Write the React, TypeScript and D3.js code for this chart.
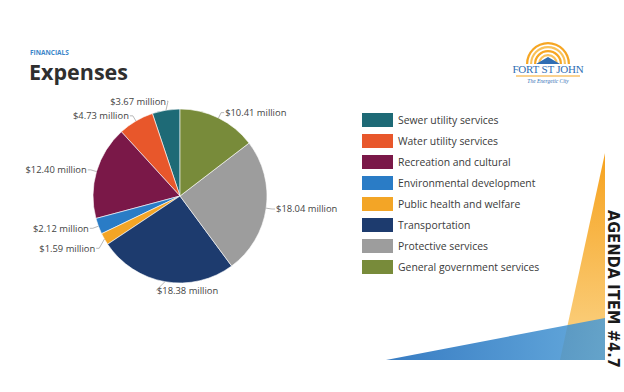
import React, { useEffect, useRef } from 'react';
import * as d3 from 'd3';

// legend order (top to bottom)
const categories = [
  'Sewer utility services',
  'Water utility services',
  'Recreation and cultural',
  'Environmental development',
  'Public health and welfare',
  'Transportation',
  'Protective services',
  'General government services',
];
const values = [3.67, 4.73, 12.4, 2.12, 1.59, 18.38, 18.04, 10.41];
const colors = ['#1e6a76', '#e8572b', '#7a1848', '#2a7cc6', '#f3a526', '#1d3b6e', '#9d9d9d', '#788b3a'];

const W = 624;
const H = 392;

const App: React.FC = () => {
  const svgRef = useRef<SVGSVGElement | null>(null);

  useEffect(() => {
    if (!svgRef.current) return;
    const svg = d3.select(svgRef.current);
    svg.selectAll('*').remove();

    const font = "'Open Sans', 'Noto Sans', sans-serif";
    const data = categories.map((c, i) => ({ name: c, value: values[i], color: colors[i] }));

    // gradients for the corner decoration
    const defs = svg.append('defs');
    const og = defs.append('linearGradient').attr('id', 'og').attr('x1', 0).attr('y1', 0).attr('x2', 0).attr('y2', 1);
    og.append('stop').attr('offset', '0%').attr('stop-color', '#f6a21e');
    og.append('stop').attr('offset', '100%').attr('stop-color', '#fbd488');
    const bg = defs.append('linearGradient').attr('id', 'bg').attr('x1', 0).attr('y1', 0).attr('x2', 1).attr('y2', 0);
    bg.append('stop').attr('offset', '0%').attr('stop-color', '#1565b8');
    bg.append('stop').attr('offset', '100%').attr('stop-color', '#4a9bd6');

    svg.append('rect').attr('width', W).attr('height', H).attr('fill', '#ffffff');

    // decoration triangles
    svg.append('path')
      .attr('d', 'M605,153 L605,360 L560,360 Z')
      .attr('fill', 'url(#og)');
    svg.append('path')
      .attr('d', 'M386,360 L605,318 L605,360 Z')
      .attr('fill', 'url(#bg)')
      .attr('opacity', 0.85);

    // vertical agenda text
    svg.append('text')
      .attr('transform', 'translate(608,210) rotate(90)')
      .attr('font-family', "'DejaVu Sans Condensed', 'DejaVu Sans', sans-serif")
      .attr('font-weight', 'bold')
      .attr('font-size', 16)
      .attr('letter-spacing', 0.2)
      .attr('fill', '#1a1a1a')
      .text('AGENDA ITEM #4.7');

    // titles
    svg.append('text')
      .attr('x', 30).attr('y', 55)
      .attr('font-family', font).attr('font-weight', 'bold').attr('font-size', 6.5)
      .attr('fill', '#3b86c9')
      .text('FINANCIALS');
    svg.append('text')
      .attr('x', 29).attr('y', 80)
      .attr('font-family', font).attr('font-weight', 'bold').attr('font-size', 21.5)
      .attr('fill', '#2f2f2f')
      .text('Expenses');

    // logo
    const logo = svg.append('g').attr('transform', 'translate(548,64)');
    [22, 18, 14, 10].forEach((rr, i) => {
      logo.append('path')
        .attr('d', d3.arc()({ innerRadius: rr - 2.2, outerRadius: rr, startAngle: -Math.PI / 2, endAngle: Math.PI / 2 }) as string)
        .attr('fill', i % 2 === 0 ? '#f6a623' : '#f9c25a');
    });
    logo.append('path').attr('d', 'M-12,0 L0,-7 L12,0 Z').attr('fill', '#2f6db3');
    logo.append('text')
      .attr('x', 0).attr('y', 9).attr('text-anchor', 'middle')
      .attr('font-family', "'Liberation Serif', serif").attr('font-size', 11)
      .attr('fill', '#2f6db3').attr('letter-spacing', -0.2)
      .text('FORT ST JOHN');
    logo.append('line').attr('x1', -32).attr('x2', 32).attr('y1', 12).attr('y2', 12)
      .attr('stroke', '#f6a623').attr('stroke-width', 1.2);
    logo.append('text')
      .attr('x', 0).attr('y', 18.5).attr('text-anchor', 'middle')
      .attr('font-family', "'Liberation Serif', serif").attr('font-style', 'italic').attr('font-size', 5.5)
      .attr('fill', '#2f6db3')
      .text('The Energetic City');

    // pie
    const cx = 180;
    const cy = 196;
    const r = 87;
    const pie = d3.pie<typeof data[0]>()
      .value(d => d.value)
      .sort(null)
      .startAngle(0)
      .endAngle(-2 * Math.PI);
    const arcs = pie(data);
    const arc = d3.arc<d3.PieArcDatum<typeof data[0]>>().innerRadius(0).outerRadius(r);

    const g = svg.append('g').attr('transform', `translate(${cx},${cy})`);
    g.selectAll('path.slice')
      .data(arcs)
      .enter()
      .append('path')
      .attr('class', 'slice')
      .attr('d', arc)
      .attr('fill', d => d.data.color)
      .attr('stroke', '#ffffff')
      .attr('stroke-width', 0.6);

    // labels with leader lines
    const pt = (a: number, rr: number) => [Math.sin(a) * rr, -Math.cos(a) * rr];
    const labels = arcs.map(a => {
      const mid = (a.startAngle + a.endAngle) / 2;
      const [ex, ey] = pt(mid, r);
      const [lx, ly] = pt(mid, r + 6);
      const c = Math.cos(mid);
      const pos = c > 0.95 ? 'top' : c < -0.95 ? 'bottom' : Math.sin(mid) > 0 ? 'right' : 'left';
      return { d: a.data, mid, ex, ey, lx, ly, pos };
    });
    // keep left labels apart vertically
    const left = labels.filter(l => l.pos === 'left').sort((a, b) => a.ly - b.ly);
    for (let i = 1; i < left.length; i++) {
      if (left[i].ly - left[i - 1].ly < 20) left[i].ly = left[i - 1].ly + 20;
    }

    labels.forEach(l => {
      let tx = l.lx;
      let ty = l.ly;
      let anchor = 'start';
      let pts = '';
      if (l.pos === 'right') {
        tx = l.lx + 4;
        pts = `${l.ex},${l.ey} ${l.lx},${l.ly} ${tx - 1},${l.ly}`;
      } else if (l.pos === 'left') {
        tx = l.lx - 4;
        anchor = 'end';
        pts = `${l.ex},${l.ey} ${l.lx},${l.ly} ${tx + 1},${l.ly}`;
      } else if (l.pos === 'top') {
        tx = l.lx + 1;
        ty = l.ly - 3;
        anchor = 'end';
        pts = `${l.ex},${l.ey} ${l.lx + 3},${ty} ${tx + 1},${ty}`;
      } else {
        tx = l.lx - 7;
        ty = l.ly + 3;
        pts = `${l.ex},${l.ey} ${tx - 1},${ty}`;
      }
      g.append('polyline')
        .attr('points', pts)
        .attr('fill', 'none')
        .attr('stroke', '#9a9a9a')
        .attr('stroke-width', 0.7);
      g.append('text')
        .attr('x', tx)
        .attr('y', ty)
        .attr('dy', '0.35em')
        .attr('text-anchor', anchor)
        .attr('font-family', font)
        .attr('font-size', 9.4)
        .attr('fill', '#444')
        .text(`$${l.d.value.toFixed(2)} million`);
    });

    // legend
    const legend = svg.append('g').attr('transform', 'translate(362,113)');
    const row = legend.selectAll('g.item')
      .data(data)
      .enter()
      .append('g')
      .attr('class', 'item')
      .attr('transform', (d, i) => `translate(0,${i * 21})`);
    row.append('rect')
      .attr('width', 31).attr('height', 14)
      .attr('fill', d => d.color);
    row.append('text')
      .attr('x', 36).attr('y', 7).attr('dy', '0.35em')
      .attr('font-family', font).attr('font-size', 10.4)
      .attr('fill', '#3a3a3a')
      .text(d => d.name);
  }, []);

  return (
    <svg
      ref={svgRef}
      width={W}
      height={H}
      style={{ position: 'absolute', left: 0, top: 0 }}
    />
  );
};

export default App;
